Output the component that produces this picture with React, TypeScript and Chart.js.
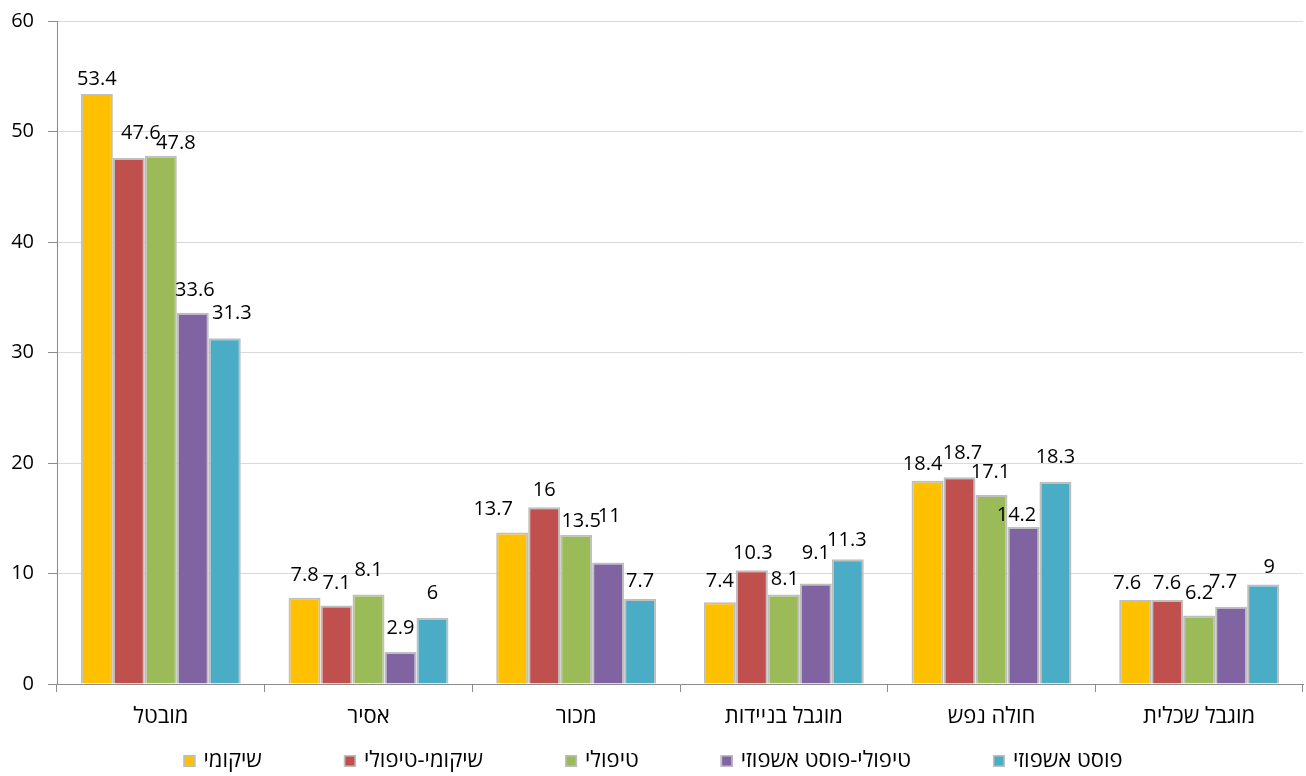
import React, { useEffect, useRef } from "react";
import { Chart, registerables } from "chart.js";

Chart.register(...registerables);

const categories = ["מובטל", "אסיר", "מכור", "מוגבל בניידות", "חולה נפש", "מוגבל שכלית"];
const seriesNames = ["שיקומי", "שיקומי-טיפולי", "טיפולי", "טיפולי-פוסט אשפוזי", "פוסט אשפוזי"];
const rehab = [53.4, 7.8, 13.7, 7.4, 18.4, 7.6];
const rehabTreat = [47.6, 7.1, 16, 10.3, 18.7, 7.6];
const treat = [47.8, 8.1, 13.5, 8.1, 17.1, 6.2];
const treatPost = [33.6, 2.9, 11, 9.1, 14.2, 7.0];
const post = [31.3, 6, 7.7, 11.3, 18.3, 9];
const rehabLabels = ["53.4", "7.8", "13.7", "7.4", "18.4", "7.6"];
const rehabTreatLabels = ["47.6", "7.1", "16", "10.3", "18.7", "7.6"];
const treatLabels = ["47.8", "8.1", "13.5", "8.1", "17.1", "6.2"];
const treatPostLabels = ["33.6", "2.9", "11", "9.1", "14.2", "7.7"];
const postLabels = ["31.3", "6", "7.7", "11.3", "18.3", "9"];
const yMin = 0;
const yMax = 60;
const yStep = 10;

const colors = ["#FFC000", "#C0504D", "#9BBB59", "#8064A2", "#4BACC6"];
const FONT = "'Open Sans', 'DejaVu Sans', sans-serif";

// label nudges [dx, dy from bar top to label centre], as placed in the original
const labelNudges: number[][][] = [
  [[0, -15], [0, -23], [-19, -23], [0, -21], [-5, -16], [-8, -17]],
  [[12, -25], [0, -22], [0, -17], [1, -17], [3, -24], [0, -17]],
  [[15, -13], [0, -24], [5, -14], [1, -15], [-1, -23], [0, -22]],
  [[2, -22], [0, -24], [1, -46], [0, -30], [-7, -12], [-8, -24]],
  [[7, -25], [0, -24], [0, -18], [-1, -19], [0, -24], [6, -17]],
];

export default function App() {
  const ref = useRef<HTMLCanvasElement | null>(null);

  useEffect(() => {
    if (!ref.current) return;
    const values = [rehab, rehabTreat, treat, treatPost, post];
    const labelSets = [rehabLabels, rehabTreatLabels, treatLabels, treatPostLabels, postLabels];

    const valueLabels = {
      id: "valueLabels",
      afterDatasetsDraw(chart: any) {
        const ctx = chart.ctx;
        ctx.save();
        ctx.font = `20px ${FONT}`;
        ctx.fillStyle = "#000";
        ctx.textAlign = "center";
        ctx.textBaseline = "middle";
        chart.data.datasets.forEach((ds: any, di: number) => {
          const meta = chart.getDatasetMeta(di);
          meta.data.forEach((el: any, i: number) => {
            const [dx, dy] = labelNudges[di][i];
            ctx.fillText(labelSets[di][i], el.x + dx, el.y + dy);
          });
        });
        ctx.restore();
      },
    };

    const bottomLegend = {
      id: "bottomLegend",
      afterDraw(chart: any) {
        const ctx = chart.ctx;
        ctx.save();
        ctx.font = `22px ${FONT}`;
        const box = 12;
        const gapText = 8;
        const gap = 82;
        const widths = seriesNames.map((n) => ctx.measureText(n).width);
        const total = widths.reduce((a, w) => a + box + gapText + w, 0) + gap * (seriesNames.length - 1);
        let x = chart.width / 2 - total / 2;
        const cy = 761;
        seriesNames.forEach((n, i) => {
          ctx.fillStyle = colors[i];
          ctx.fillRect(x, cy - box / 2, box, box);
          ctx.strokeStyle = "#bfbfbf";
          ctx.lineWidth = 1.5;
          ctx.strokeRect(x + 0.75, cy - box / 2 + 0.75, box - 1.5, box - 1.5);
          ctx.fillStyle = "#000";
          ctx.textAlign = "left";
          ctx.textBaseline = "middle";
          ctx.fillText(n, x + box + gapText, cy);
          x += box + gapText + widths[i] + gap;
        });
        ctx.restore();
      },
    };

    const chart = new Chart(ref.current, {
      type: "bar",
      data: {
        labels: categories,
        datasets: seriesNames.map((name, i) => ({
          label: name,
          data: values[i],
          backgroundColor: colors[i],
          borderColor: "#bfbfbf",
          borderWidth: 2,
          barPercentage: 1,
          categoryPercentage: 0.77,
        })),
      },
      options: {
        animation: false,
        responsive: false,
        maintainAspectRatio: false,
        layout: { padding: { top: 21, right: 3, left: 0, bottom: 0 } },
        plugins: {
          legend: { display: false },
          tooltip: { enabled: false },
        },
        scales: {
          x: {
            afterFit: (s: any) => {
              s.height = 92;
              s.paddingLeft = 0;
              s.paddingRight = 0;
            },
            grid: {
              drawOnChartArea: false,
              drawTicks: true,
              tickLength: 8,
              color: "#8c8c8c",
              offset: true,
            },
            border: { color: "#8c8c8c", width: 1 },
            ticks: {
              color: "#000",
              font: { family: FONT, size: 22 },
              padding: 12,
              maxRotation: 0,
              autoSkip: false,
            },
          },
          y: {
            min: yMin,
            max: yMax,
            afterFit: (s: any) => {
              s.width = 57;
              s.paddingTop = 0;
              s.paddingBottom = 0;
            },
            grid: {
              color: "#d9d9d9",
              tickColor: "#8c8c8c",
              tickLength: 9,
              drawTicks: true,
            },
            border: { color: "#8c8c8c", width: 1 },
            ticks: {
              stepSize: yStep,
              color: "#000",
              font: { family: FONT, size: 20 },
              padding: 14,
            },
          },
        },
      },
      plugins: [valueLabels, bottomLegend],
    });
    return () => chart.destroy();
  }, []);

  return (
    <div style={{ position: "fixed", left: 0, top: 0, width: 1306, height: 776, background: "#fff" }}>
      <canvas ref={ref} width={1306} height={776} style={{ width: 1306, height: 776, display: "block" }} />
    </div>
  );
}
